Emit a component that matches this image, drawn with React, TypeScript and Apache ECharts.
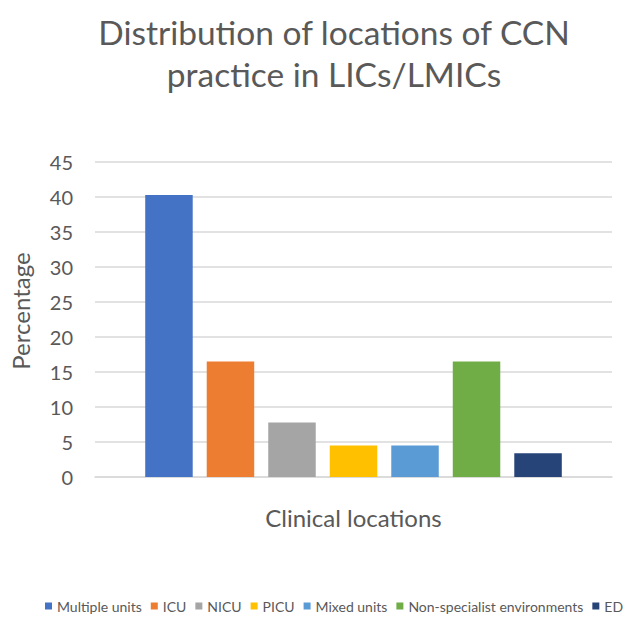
import React, { useEffect, useRef } from "react";
import * as echarts from "echarts";

const seriesNames = [
  "Multiple units",
  "ICU",
  "NICU",
  "PICU",
  "Mixed units",
  "Non-specialist environments",
  "ED",
];
const seriesValues = [40.3, 16.5, 7.8, 4.5, 4.5, 16.5, 3.4];
const seriesColors = ["#4472C4", "#ED7D31", "#A5A5A5", "#FFC000", "#5B9BD5", "#70AD47", "#264478"];
const categories = [""];

const FONT = "Lato, 'Open Sans', sans-serif";
const GREY = "#595959";

export default function App() {
  const ref = useRef<HTMLDivElement>(null);
  useEffect(() => {
    if (!ref.current) return;
    const chart = echarts.init(ref.current, undefined, { renderer: "svg" });
    chart.setOption({
      animation: false,
      backgroundColor: "#ffffff",
      textStyle: { fontFamily: FONT },
      title: {
        text: "Distribution of locations of CCN\npractice in LICs/LMICs",
        left: 329,
        top: 6,
        textAlign: "center",
        textStyle: {
          fontFamily: FONT,
          fontSize: 33.5,
          fontWeight: "normal",
          color: GREY,
          lineHeight: 42,
        },
      },
      legend: {
        data: seriesNames,
        left: 45,
        top: 599,
        padding: 0,
        icon: "rect",
        itemWidth: 7,
        itemHeight: 7,
        itemGap: 9,
        textStyle: { fontFamily: FONT, fontSize: 14, color: GREY },
      },
      grid: { left: 90, right: 21, top: 162, bottom: 145 },
      xAxis: {
        type: "category",
        data: categories,
        name: "Clinical locations",
        nameLocation: "middle",
        nameGap: 28,
        nameTextStyle: { fontFamily: FONT, fontSize: 24, color: GREY },
        axisLine: { show: true, lineStyle: { color: "#D9D9D9", width: 1.5 } },
        axisTick: { show: false },
        axisLabel: { show: false },
        splitLine: { show: false },
      },
      yAxis: {
        type: "value",
        min: 0,
        max: 45,
        interval: 5,
        name: "Percentage",
        nameLocation: "middle",
        nameGap: 63,
        nameTextStyle: { fontFamily: FONT, fontSize: 24, color: GREY, padding: [0, 0, 0, 17] },
        axisLine: { show: false },
        axisTick: { show: false },
        axisLabel: { fontFamily: FONT, fontSize: 20, color: GREY, margin: 22 },
        splitLine: { lineStyle: { color: "#D9D9D9", width: 1.5 } },
      },
      series: seriesNames.map((name, i) => ({
        name,
        type: "bar",
        data: [seriesValues[i]],
        barWidth: 47.5,
        barGap: "29.5%",
        itemStyle: { color: seriesColors[i] },
      })),
    });
    return () => chart.dispose();
  }, []);
  return (
    <div
      ref={ref}
      style={{ position: "fixed", left: 0, top: 0, width: 633, height: 622, background: "#fff" }}
    />
  );
}
